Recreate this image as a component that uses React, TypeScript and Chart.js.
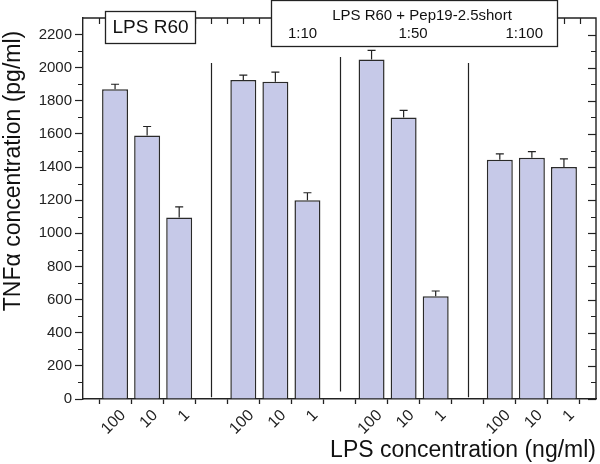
import React, { useEffect, useRef } from 'react';
import { Chart, registerables } from 'chart.js';

Chart.register(...registerables);

// ---- data ----
const categories = ['', '100', '10', '1', '', '100', '10', '1', '', '100', '10', '1', '', '100', '10', '1', ''];
const tnfValues = [null, 1870, 1590, 1095, null, 1925, 1915, 1200, null, 2050, 1700, 620, null, 1445, 1457, 1400, null];
const tnfErrors = [null, 30, 55, 65, null, 30, 58, 45, null, 55, 42, 32, null, 35, 36, 50, null];
const yTickValues = [0, 200, 400, 600, 800, 1000, 1200, 1400, 1600, 1800, 2000, 2200];
const yMinorValues = [100, 300, 500, 700, 900, 1100, 1300, 1500, 1700, 1900, 2100];
const separatorTops = [2028, 2065, 2028];
const separatorBottoms = [10, 45, 10];
const controlLabel = 'LPS R60';
const peptideLabel = 'LPS R60 + Pep19-2.5short';
const ratioLabels = ['1:10', '1:50', '1:100'];
const yTitle = 'TNFα concentration (pg/ml)';
const xTitle = 'LPS concentration (ng/ml)';

const INK = '#222222';
const FONT = '"Liberation Sans", Arial, Helvetica, sans-serif';

const overlay = {
  id: 'overlay',
  afterDraw(chart: any) {
    const { ctx, chartArea: ca, scales } = chart;
    const x = scales.x;
    const y = scales.y;
    ctx.save();
    ctx.strokeStyle = INK;
    ctx.lineWidth = 1.2;

    // error bars
    const meta = chart.getDatasetMeta(0);
    meta.data.forEach((bar: any, i: number) => {
      const v = tnfValues[i];
      const e = tnfErrors[i];
      if (v == null || e == null) return;
      const top = y.getPixelForValue(v + e);
      ctx.beginPath();
      ctx.moveTo(bar.x, bar.y);
      ctx.lineTo(bar.x, top);
      ctx.moveTo(bar.x - 4, top);
      ctx.lineTo(bar.x + 4, top);
      ctx.stroke();
    });

    // separators in the gap slots
    let k = 0;
    categories.forEach((c, i) => {
      if (c !== '' || i === 0 || i === categories.length - 1) return;
      const px = Math.round(x.getPixelForValue(i)) + 0.5;
      ctx.beginPath();
      ctx.moveTo(px, y.getPixelForValue(separatorBottoms[k]));
      ctx.lineTo(px, y.getPixelForValue(separatorTops[k]));
      ctx.stroke();
      k++;
    });

    // frame top/right
    ctx.lineWidth = 1.4;
    ctx.beginPath();
    ctx.moveTo(ca.left, ca.top);
    ctx.lineTo(ca.right, ca.top);
    ctx.lineTo(ca.right, ca.bottom);
    ctx.stroke();

    ctx.lineWidth = 1.2;
    // right axis inward ticks
    yTickValues.forEach((v) => {
      const py = Math.round(y.getPixelForValue(v)) + 0.5;
      ctx.beginPath();
      ctx.moveTo(ca.right, py);
      ctx.lineTo(ca.right - 8, py);
      ctx.stroke();
    });
    yMinorValues.forEach((v) => {
      const py = Math.round(y.getPixelForValue(v)) + 0.5;
      ctx.beginPath();
      ctx.moveTo(ca.right, py);
      ctx.lineTo(ca.right - 5, py);
      ctx.moveTo(ca.left, py);
      ctx.lineTo(ca.left - 5, py);
      ctx.stroke();
    });
    // top axis downward ticks at every half slot
    for (let i = 0.5; i <= categories.length - 1.5; i += 0.5) {
      const px = Math.round(x.getPixelForValue(i)) + 0.5;
      ctx.beginPath();
      ctx.moveTo(px, ca.top);
      ctx.lineTo(px, ca.top + 6);
      ctx.stroke();
    }

    // y axis title
    ctx.save();
    ctx.fillStyle = '#111111';
    ctx.font = `23px ${FONT}`;
    ctx.textAlign = 'center';
    ctx.textBaseline = 'alphabetic';
    ctx.translate(20, 171);
    ctx.rotate(-Math.PI / 2);
    ctx.fillText(yTitle, 0, 0);
    ctx.restore();

    // label boxes
    ctx.lineWidth = 1.3;
    ctx.fillStyle = '#ffffff';
    ctx.fillRect(105, 11, 91, 32);
    ctx.strokeRect(105.5, 11.5, 90, 32);
    ctx.fillRect(271, 0, 287, 47);
    ctx.strokeRect(271.5, 0.5, 286, 46);

    ctx.fillStyle = '#111111';
    ctx.textBaseline = 'middle';
    ctx.font = `19px ${FONT}`;
    ctx.textAlign = 'center';
    ctx.fillText(controlLabel, 150.5, 28);

    ctx.font = `15px ${FONT}`;
    ctx.fillText(peptideLabel, 422, 15.5);
    ctx.textAlign = 'left';
    ctx.fillText(ratioLabels[0], 288, 34);
    ctx.textAlign = 'center';
    ctx.fillText(ratioLabels[1], 413, 34);
    ctx.textAlign = 'right';
    ctx.fillText(ratioLabels[2], 543, 34);

    ctx.restore();
  },
};

export default function App() {
  const ref = useRef<HTMLCanvasElement | null>(null);

  useEffect(() => {
    if (!ref.current) return;
    const chart = new Chart(ref.current, {
      type: 'bar',
      data: {
        labels: categories,
        datasets: [
          {
            data: tnfValues as any,
            backgroundColor: '#c6c9e8',
            borderColor: '#2a2a2a',
            borderWidth: 1.5,
            categoryPercentage: 1,
            barPercentage: 0.81,
          },
        ],
      },
      options: {
        responsive: false,
        animation: false,
        devicePixelRatio: 1,
        layout: { padding: { left: 0, right: 4, top: 18, bottom: 0 } },
        plugins: {
          legend: { display: false },
          tooltip: { enabled: false },
          title: { display: false },
        },
        scales: {
          x: {
            type: 'category',
            offset: false,
            grid: {
              offset: true,
              drawOnChartArea: false,
              drawTicks: true,
              tickLength: 5,
              tickColor: INK,
              tickWidth: 1.3,
            },
            border: { display: true, color: INK, width: 1.4 },
            ticks: {
              autoSkip: false,
              minRotation: 45,
              maxRotation: 45,
              color: INK,
              padding: 2,
              labelOffset: 8,
              font: { family: FONT, size: 16 },
            },
            title: {
              display: true,
              text: xTitle,
              align: 'end',
              color: '#111111',
              padding: { top: 0, bottom: 0 },
              font: { family: FONT, size: 23, lineHeight: 1.2 },
            },
            afterFit: (scale: any) => {
              scale.height = 65;
              scale.paddingLeft = 0;
              scale.paddingRight = 0;
            },
          },
          y: {
            min: 0,
            max: 2300,
            grid: {
              drawOnChartArea: false,
              tickLength: 8,
              tickColor: INK,
              tickWidth: 1.2,
            },
            border: { display: true, color: INK, width: 1.4 },
            ticks: {
              color: INK,
              padding: 3,
              font: { family: FONT, size: 15 },
              callback: (v: any) => String(v),
            },
            afterBuildTicks: (scale: any) => {
              scale.ticks = yTickValues.map((v) => ({ value: v }));
            },
            afterFit: (scale: any) => {
              scale.width = 83;
              scale.paddingTop = 0;
              scale.paddingBottom = 0;
            },
          },
        },
      },
      plugins: [overlay],
    });
    return () => chart.destroy();
  }, []);

  return (
    <div style={{ position: 'absolute', left: 0, top: 0, width: 600, height: 464, background: '#fff' }}>
      <canvas ref={ref} width={600} height={464} />
    </div>
  );
}
